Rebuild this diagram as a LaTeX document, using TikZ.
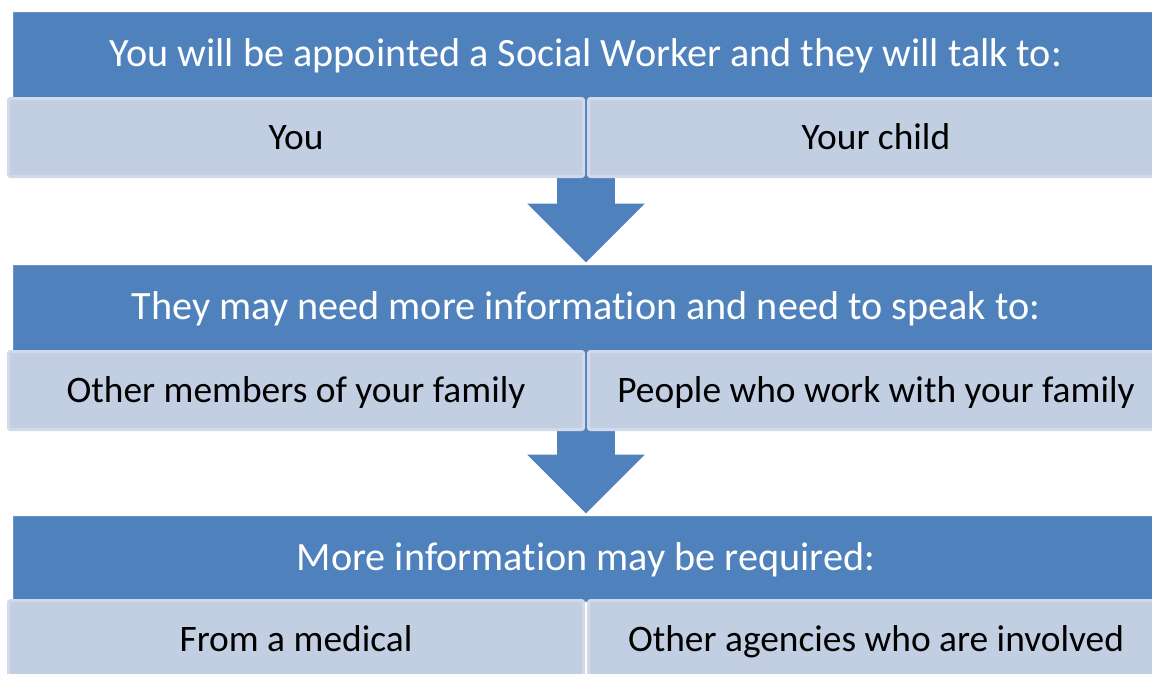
\documentclass[tikz,border=0pt]{standalone}
\usepackage{fontspec}
\setmainfont[Ligatures=NoCommon]{Carlito}
\usetikzlibrary{arrows.meta}
\definecolor{headblue}{RGB}{79,129,189}
\definecolor{cellblue}{RGB}{194,206,226}
\definecolor{cellrim}{RGB}{210,218,233}
\begin{document}
\begin{tikzpicture}[x=1pt,y=-1pt]
	\tikzstyle{head}=[fill=headblue,draw=headblue!85!white,line width=0.8pt,inner sep=0pt,minimum width=1146pt,minimum height=85pt,text height=31pt,text depth=7pt,text=white,font=\fontsize{40.2}{44}\selectfont]
	\tikzstyle{cell}=[fill=cellblue,draw=cellrim,line width=3pt,rounded corners=2pt,inner sep=0pt,minimum width=575pt,minimum height=78pt,text height=30pt,text depth=7pt,text=black,font=\fontsize{37.4}{42}\selectfont]
	\tikzstyle{down}=[headblue,line width=58pt,-{Triangle[length=59pt,width=114pt]},shorten >=2pt]
	\useasboundingbox (0,0) rectangle (1152,673);
	\node[head] (head1) at (586,54.5) {You will be appointed a Social Worker and they will talk to:};
	\node[head] (head2) at (586,307.5) {They may need more information and need to speak to:};
	\node[head] (head3) at (586,558.5) {More information may be required:};
	\draw[down] (head1.south) -- (head2.north);
	\draw[down] (head2.south) -- (head3.north);
	\node[cell] (you) at (296,137.5) {You};
	\node[cell] (child) at (876,137.5) {Your child};
	\node[cell] (family) at (296,390.5) {Other members of your family};
	\node[cell] (workers) at (876,390.5) {People who work with your family};
	\node[cell] (medical) at (296,639.5) {From a medical};
	\node[cell] (agencies) at (876,639.5) {Other agencies who are involved};
\end{tikzpicture}
\end{document}
